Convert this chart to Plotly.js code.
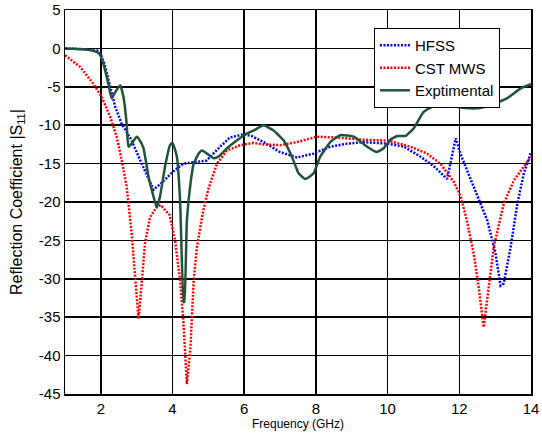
<!DOCTYPE html>
<html>
<head>
<meta charset="utf-8">
<script src="https://cdn.plot.ly/plotly-3.0.1.min.js"></script>
<style>html,body{margin:0;padding:0;background:#fff;}#chart{width:542px;height:433px;}</style>
</head>
<body>
<div id="chart"></div>
<script>
// HFSS simulation
const hfssX = [1, 1.5, 1.9, 2.0, 2.1, 2.25, 2.4, 2.58, 2.86, 3.1, 3.3, 3.47, 3.7, 4.0, 4.3, 4.67, 4.95, 5.33, 5.6, 5.98, 6.2, 6.54, 7.0, 7.47, 7.93, 8.4, 8.87, 9.33, 10.0, 10.46, 10.92, 11.3, 11.66, 11.9, 12.03, 12.4, 12.78, 13.01, 13.15, 13.24, 13.43, 13.62, 13.8, 14.0];
const hfssY = [0, -0.1, -0.3, -0.8, -2.0, -4.8, -7.6, -9.8, -12.0, -14.6, -16.6, -18.4, -17.5, -16.1, -15.0, -14.8, -14.6, -12.8, -11.6, -11.2, -11.4, -12.2, -13.5, -14.2, -13.7, -12.8, -12.4, -12.2, -12.4, -12.8, -14.1, -15.4, -17.0, -11.7, -13.7, -18.0, -22.4, -26.7, -30.9, -30.6, -25.9, -20.2, -16.3, -13.5];

// CST MWS simulation
const cstX = [1, 1.42, 1.79, 2.02, 2.26, 2.44, 2.58, 2.72, 2.86, 2.96, 3.05, 3.14, 3.23, 3.37, 3.55, 3.67, 3.92, 4.07, 4.21, 4.3, 4.4, 4.5, 4.54, 4.59, 4.68, 4.84, 5.0, 5.24, 5.52, 5.89, 6.26, 6.54, 7.0, 7.47, 8.03, 8.59, 9.33, 10.0, 10.64, 11.1, 11.47, 11.85, 12.04, 12.21, 12.4, 12.54, 12.68, 12.82, 12.96, 13.24, 13.52, 13.8, 14.0];
const cstY = [-0.9, -2.4, -4.6, -6.3, -8.9, -11.5, -14.5, -18.0, -24.1, -30.6, -35.2, -30.6, -25.4, -22.0, -20.7, -20.4, -21.7, -25.0, -30.2, -35.4, -43.7, -38.9, -34.5, -30.2, -25.9, -21.5, -18.3, -15.0, -13.3, -12.6, -12.3, -12.5, -12.6, -12.2, -11.5, -11.6, -11.9, -12.0, -12.8, -13.7, -15.0, -17.4, -19.3, -22.4, -26.7, -31.1, -36.3, -31.1, -25.9, -20.2, -17.2, -15.4, -14.1];

// Measured
const expX = [1, 1.5, 1.79, 1.96, 2.07, 2.21, 2.3, 2.4, 2.54, 2.63, 2.72, 2.77, 2.86, 3.0, 3.09, 3.19, 3.33, 3.47, 3.56, 3.65, 3.79, 3.93, 4.0, 4.12, 4.21, 4.31, 4.33, 4.4, 4.5, 4.59, 4.73, 4.82, 4.96, 5.15, 5.28, 5.52, 5.79, 6.07, 6.3, 6.54, 6.82, 7.1, 7.33, 7.52, 7.71, 7.93, 8.12, 8.4, 8.68, 9.06, 9.43, 9.7, 9.89, 10.08, 10.27, 10.5, 10.73, 11.0, 11.43, 12.04, 12.5, 12.87, 13.33, 13.71, 14.0];
const expY = [0, -0.1, -0.3, -0.7, -2.0, -4.6, -6.5, -5.7, -4.8, -6.3, -9.8, -12.8, -12.4, -11.5, -12.0, -13.0, -16.7, -19.3, -20.7, -19.3, -15.4, -12.6, -12.3, -14.1, -19.8, -33.0, -33.0, -22.4, -17.6, -15.0, -13.7, -13.3, -13.7, -14.3, -14.1, -13.0, -12.0, -11.1, -10.6, -10.0, -10.7, -12.0, -14.1, -16.3, -17.0, -16.3, -14.1, -12.2, -11.3, -11.5, -12.8, -13.5, -13.0, -11.9, -11.4, -11.4, -10.4, -8.3, -7.2, -7.7, -7.8, -7.4, -6.5, -5.2, -4.65];

const xTickVals = [2, 4, 6, 8, 10, 12, 14];
const xTickText = ["2", "4", "6", "8", "10", "12", "14"];
const yTickVals = [5, 0, -5, -10, -15, -20, -25, -30, -35, -40, -45];
const yTickText = ["5", "0", "-5", "-10", "-15", "-20", "-25", "-30", "-35", "-40", "-45"];

const font = "Arial, 'Liberation Sans', sans-serif";

const traces = [
  {x: hfssX, y: hfssY, name: "HFSS", mode: "lines", line: {color: "#0000ff", width: 2.5, dash: "2px,1.5px"}},
  {x: cstX, y: cstY, name: "CST MWS", mode: "lines", line: {color: "#ff0000", width: 2.5, dash: "2px,1.5px"}},
  {x: expX, y: expY, name: "Exptimental", mode: "lines", line: {color: "#1f5438", width: 2.5, shape: "spline", smoothing: 0.4}}
];

const layout = {
  width: 542, height: 433,
  margin: {l: 65, r: 11, t: 10, b: 39},
  paper_bgcolor: "#ffffff", plot_bgcolor: "#ffffff",
  font: {family: font, color: "#000", size: 15},
  showlegend: true,
  legend: {x: 0.663, y: 0.953, xanchor: "left", yanchor: "top", bgcolor: "#fff", bordercolor: "#000", borderwidth: 1, font: {family: font, size: 15, color: "#000"}, tracegroupgap: 0, itemwidth: 30},
  xaxis: {
    range: [1, 14], tickvals: xTickVals, ticktext: xTickText,
    showgrid: true, gridcolor: "#000", gridwidth: 1.5,
    showline: true, linecolor: "#000", linewidth: 1.5, mirror: true,
    ticks: "inside", ticklen: 3, tickcolor: "#000", zeroline: false,
    tickfont: {size: 15},
    title: {text: "Frequency (GHz)", font: {size: 12}, standoff: 4}
  },
  yaxis: {
    range: [-45, 5], tickvals: yTickVals, ticktext: yTickText,
    showgrid: true, gridcolor: "#000", gridwidth: 1.5,
    showline: true, linecolor: "#000", linewidth: 1.5, mirror: true,
    ticks: "inside", ticklen: 3, tickcolor: "#000", zeroline: false,
    tickfont: {size: 15},
    title: {text: "Reflection Coefficient |S<sub>11</sub>|", font: {size: 16}, standoff: 12}
  }
};

Plotly.newPlot("chart", traces, layout, {displayModeBar: false, staticPlot: true});
</script>
</body>
</html>
